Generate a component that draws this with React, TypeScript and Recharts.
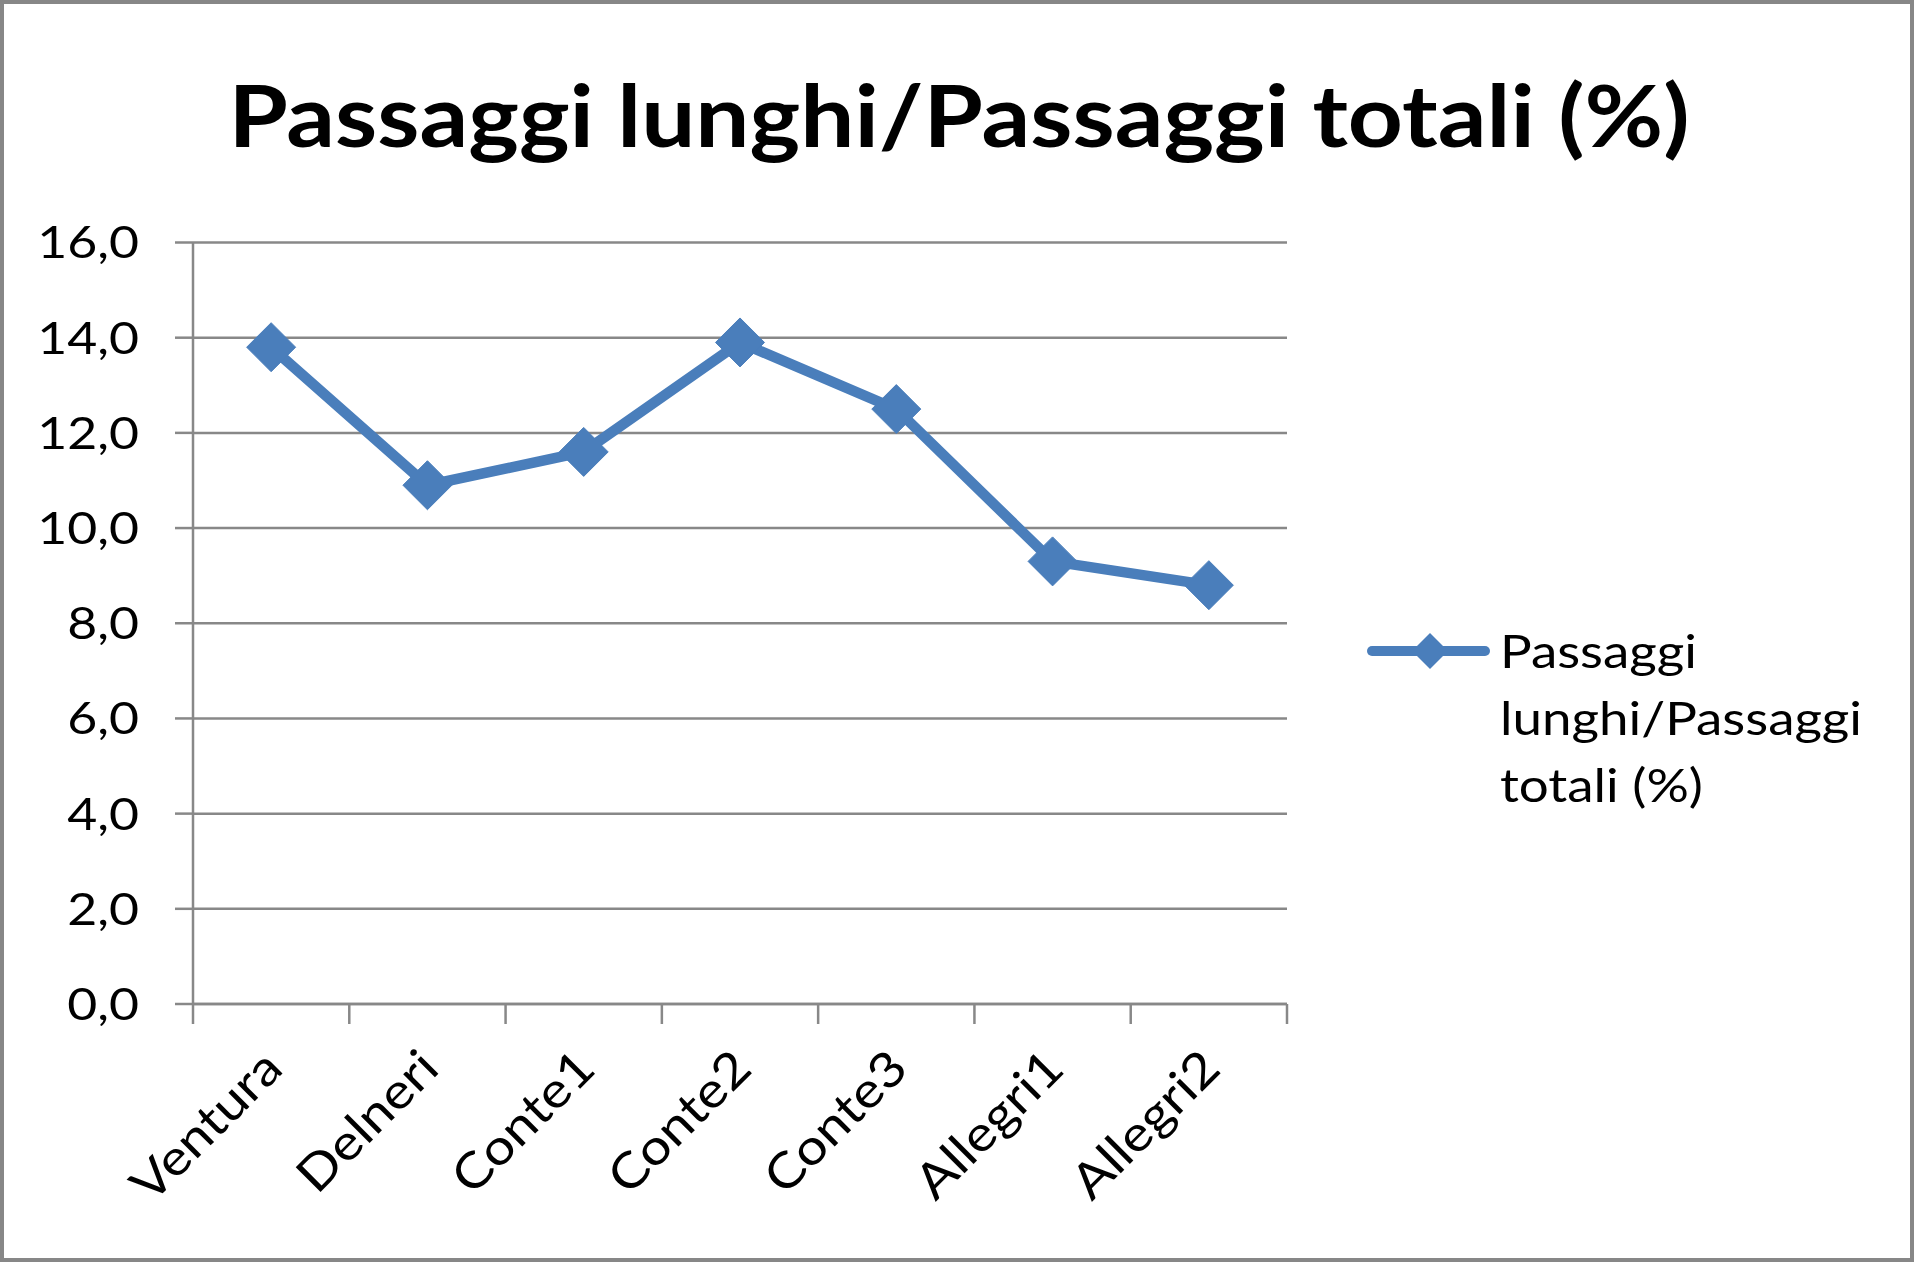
import React from "react";
import { LineChart, Line, XAxis, YAxis, CartesianGrid } from "recharts";

const categories = ["Ventura", "Delneri", "Conte1", "Conte2", "Conte3", "Allegri1", "Allegri2"];
const seriesName = "Passaggi lunghi/Passaggi totali (%)";
const values = [13.8, 10.9, 11.6, 13.9, 12.5, 9.3, 8.8];
const yTicks = [0, 2, 4, 6, 8, 10, 12, 14, 16];
const legendLines = ["Passaggi", "lunghi/Passaggi", "totali (%)"];

const data = categories.map((c, i) => ({ name: c, pos: i + 0.5, value: values[i] }));
const xTicks: number[] = [];
for (let i = 0; i <= categories.length; i++) {
  xTicks.push(i);
  if (i < categories.length) xTicks.push(i + 0.5);
}

const BLUE = "#4A7EBB";
const GRAY = "#888888";
const FONT = "Lato, 'Open Sans', sans-serif";
const SX = 1.15;

const fmt = (v: number) => v.toFixed(1).replace(".", ",");

const XTick = (props: any) => {
  const { x, y, payload } = props;
  const v = payload.value as number;
  if (Number.isInteger(v)) {
    return <line x1={x} x2={x} y1={y} y2={y + 20} stroke={GRAY} strokeWidth={2.5} />;
  }
  const label = categories[Math.floor(v)];
  const tx = x + 14;
  const ty = y + 67;
  return (
    <text
      x={0}
      y={0}
      transform={`translate(${tx}, ${ty}) rotate(-45) scale(1.12, 1)`}
      textAnchor="end"
      fontFamily={FONT}
      fontSize={49}
      fill="#000"
    >
      {label}
    </text>
  );
};

const YTick = (props: any) => {
  const { x, y, payload } = props;
  return (
    <text
      x={0}
      y={0}
      dy="0.355em"
      transform={`translate(${x}, ${y}) scale(${SX}, 1)`}
      textAnchor="end"
      fontFamily={FONT}
      fontSize={45}
      fill="#000"
    >
      {fmt(payload.value)}
    </text>
  );
};

const Diamond = (props: any) => {
  const { cx, cy, index } = props;
  if (cx == null || cy == null) return null;
  const r = 24.5;
  return (
    <polygon
      key={`d${index}`}
      points={`${cx},${cy - r} ${cx + r},${cy} ${cx},${cy + r} ${cx - r},${cy}`}
      fill={BLUE}
      stroke={BLUE}
      strokeWidth={1}
      strokeLinejoin="round"
    />
  );
};

const LegendBox = () => (
  <div style={{ position: "absolute", left: 1366, top: 617, width: 540, height: 220, fontFamily: FONT }}>
    <svg width={130} height={60} style={{ position: "absolute", left: 0, top: 2 }}>
      <line x1={6} x2={119} y1={32} y2={32} stroke={BLUE} strokeWidth={10} strokeLinecap="round" />
      <polygon points="64,14 82,32 64,50 46,32" fill={BLUE} />
    </svg>
    <div
      title={seriesName}
      style={{
        position: "absolute",
        left: 134,
        top: 0,
        fontSize: 46,
        lineHeight: "67px",
        color: "#000",
        whiteSpace: "nowrap",
        textAlign: "left",
        transform: `scaleX(${SX})`,
        transformOrigin: "left top",
      }}
    >
      {legendLines.map((l, i) => (
        <div key={i}>{l}</div>
      ))}
    </div>
  </div>
);

export default function App() {
  return (
    <div style={{ position: "absolute", left: 0, top: 0, width: 1920, height: 1265, background: "#fff", overflow: "hidden" }}>
      <div
        style={{
          position: "absolute",
          left: 0,
          top: 0,
          width: 1914,
          height: 1262,
          border: "4px solid #878787",
          boxSizing: "border-box",
        }}
      />
      <svg width={1920} height={200} style={{ position: "absolute", left: 0, top: 0 }}>
        <text
          x={0}
          y={0}
          transform="translate(959, 147) scale(1.117, 1)"
          textAnchor="middle"
          fontFamily={FONT}
          fontWeight={700}
          fontSize={86}
          fill="#000"
        >
          {seriesName}
        </text>
      </svg>
      <div style={{ position: "absolute", left: 0, top: 0 }}>
        <LineChart
          width={1920}
          height={1265}
          data={data}
          margin={{ top: 242.5, right: 633, bottom: 161, left: 0 }}
        >
          <CartesianGrid horizontal={true} vertical={false} stroke={GRAY} strokeWidth={2.5} />
          <XAxis
            dataKey="pos"
            type="number"
            domain={[0, categories.length]}
            ticks={xTicks}
            interval={0}
            height={100}
            tickLine={false}
            tickSize={0}
            tickMargin={0}
            axisLine={{ stroke: GRAY, strokeWidth: 2.5 }}
            tick={<XTick />}
            allowDecimals={true}
          />
          <YAxis
            type="number"
            domain={[0, 16]}
            ticks={yTicks}
            interval={0}
            width={193}
            tickSize={18}
            tickMargin={36}
            tickLine={{ stroke: GRAY, strokeWidth: 2.5 }}
            axisLine={{ stroke: GRAY, strokeWidth: 2.5 }}
            tick={<YTick />}
          />
          <Line
            type="linear"
            dataKey="value"
            name={seriesName}
            stroke={BLUE}
            strokeWidth={10.5}
            dot={Diamond}
            activeDot={false}
            isAnimationActive={false}
          />
        </LineChart>
      </div>
      <LegendBox />
    </div>
  );
}
